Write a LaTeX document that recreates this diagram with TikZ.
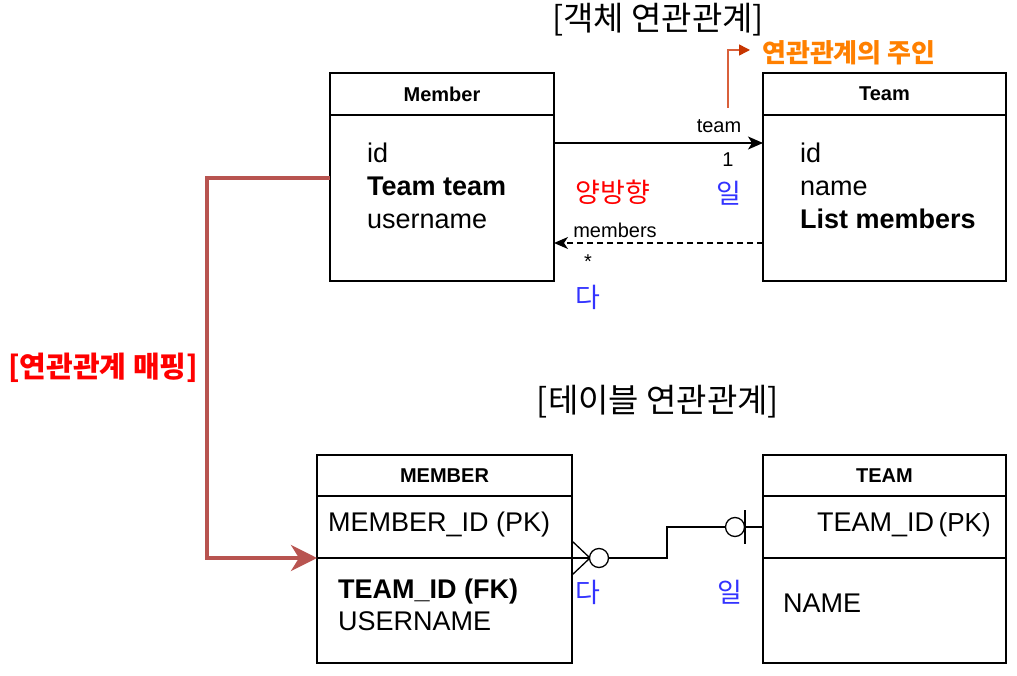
\documentclass[tikz,border=0pt]{standalone}
\usepackage{fontspec}
\setmainfont{Liberation Sans}
\newfontfamily\kr{Noto Sans CJK KR}
\usetikzlibrary{arrows.meta,positioning}
\definecolor{mapred}{HTML}{B85450}
\definecolor{ownerorange}{HTML}{FF8000}
\definecolor{ownerline}{HTML}{D9603B}
\definecolor{ownertip}{HTML}{C73500}
\definecolor{kblue}{HTML}{3333FF}

\begin{document}
\begin{tikzpicture}[x=1pt,y=-1pt,
    hdr/.style={draw,line width=1.3pt,outer sep=0pt,inner sep=0pt,
                font=\fontsize{20}{24}\selectfont\bfseries},
    body/.style={draw,line width=1.3pt,outer sep=0pt,inner sep=0pt},
    attr/.style={anchor=west,align=left,inner sep=0pt,
                 font=\fontsize{27}{33}\selectfont},
    lbl/.style={inner sep=0pt,font=\fontsize{20}{24}\selectfont},
    ko/.style={inner sep=0pt,font=\kr\fontsize{27}{32}\selectfont},
    title/.style={inner sep=0pt,font=\kr\fontsize{33}{38}\selectfont},
    link/.style={line width=1.3pt}
  ]
    \useasboundingbox (0,0) rectangle (1017,676);
    % object model
    \node[hdr,anchor=north west,minimum width=224pt,minimum height=42pt] (memberhd) at (330,73) {Member};
    \node[body,below=0pt of memberhd,minimum width=224pt,minimum height=166pt] (member) {};
    \node[hdr,right=209pt of memberhd,minimum width=243pt,minimum height=42pt] (teamhd) {Team};
    \node[body,below=0pt of teamhd,minimum width=243pt,minimum height=166pt] (team) {};
    \node[attr,right=37pt of member.west,yshift=12pt] (memberattr) {id\\\textbf{Team team}\\username};
    \node[attr,right=37pt of team.west,yshift=12pt] (teamattr) {id\\name\\\textbf{List members}};
    % table model
    \node[hdr,anchor=north west,minimum width=255pt,minimum height=41pt] (mtblhd) at (317,455) {MEMBER};
    \node[body,below=0pt of mtblhd,minimum width=255pt,minimum height=62pt] (mrow1) {};
    \node[body,below=0pt of mrow1,minimum width=255pt,minimum height=105pt] (mrow2) {};
    \node[hdr,right=191pt of mtblhd,minimum width=243pt,minimum height=41pt] (ttblhd) {TEAM};
    \node[body,below=0pt of ttblhd,minimum width=243pt,minimum height=62pt] (trow1) {};
    \node[body,below=0pt of trow1,minimum width=243pt,minimum height=105pt] (trow2) {};
    \node[attr,right=11pt of mrow1.west,yshift=2pt] (mpk) {MEMBER\_ID (PK)};
    \node[attr,right=21pt of mrow2.west,yshift=6pt,font=\fontsize{27}{32}\selectfont] (mfk) {\textbf{TEAM\_ID (FK)}\\USERNAME};
    \node[attr,right=54pt of trow1.west,yshift=2pt] (tpk) {TEAM\_ID\,{\fontsize{26}{30}\selectfont(PK)}};
    \node[attr,right=20pt of trow2.west,yshift=7pt] (tname) {NAME};
    % titles
    \node[title] (objtitle) at (658,20) {[객체 연관관계]};
    \node[title] (tbltitle) at (658,402) {[테이블 연관관계]};
    % references between objects
    \draw[link,-{Stealth[length=15pt,width=13pt,inset=4pt]}] ([yshift=55pt]member.east) -- ([yshift=55pt]team.west);
    \draw[link,dash pattern=on 6pt off 4pt,-{Stealth[length=14pt,width=12pt,inset=4pt]}]
      ([yshift=-45pt]team.west) -- ([yshift=-45pt]member.east);
    \node[lbl] (teamlbl) at (719,126) {team};
    \node[lbl] (one) at (728,160) {1};
    \node[lbl] (memberslbl) at (615,230) {members};
    \node[lbl] (many) at (588,262) {*};
    \node[ko,text=red] (bidir) at (613,192) {양방향};
    \node[ko,text=kblue] (il) at (729,193) {일};
    \node[ko,text=kblue] (da) at (588,297) {다};
    % owner of the relation
    \coordinate (ownerfoot) at (728,108);
    \node[anchor=west,inner sep=0pt,text=ownerorange,font=\kr\bfseries\fontsize{26}{30}\selectfont] (owner) at (762,53) {연관관계의 주인};
    \draw[line width=1.5pt,ownerline,shorten >=12pt,-{Triangle[length=11pt,width=11pt,color=ownertip]}]
      (ownerfoot) |- ([yshift=3pt]owner.west);
    % mapping between object and table
    \draw[mapred,line width=4pt,-{Stealth[length=26pt,width=26pt,inset=8pt]}]
      ([yshift=20pt]member.west) -- ++(-123,0) |- (mrow2.north west);
    \node[inner sep=0pt,text=red,font=\kr\bfseries\fontsize{29}{34}\selectfont] (maplbl) at (103,368) {[연관관계 매핑]};
    % foreign key
    \draw[link] (mrow1.south east) -- ++(95,0) |- (trow1.west);
    \draw[link] ([yshift=17pt]mrow1.south east) -- ([xshift=18pt]mrow1.south east) -- ([yshift=-17pt]mrow1.south east);
    \draw[link,fill=white] ([xshift=27pt]mrow1.south east) circle (9.5pt);
    \draw[link,fill=white] ([xshift=-28pt]trow1.west) circle (9.5pt);
    \draw[link] ([xshift=-18pt,yshift=17pt]trow1.west) -- ([xshift=-18pt,yshift=-17pt]trow1.west);
    \node[ko,text=kblue] (fkda) at (588,592) {다};
    \node[ko,text=kblue] (fkil) at (730,592) {일};
\end{tikzpicture}
\end{document}
